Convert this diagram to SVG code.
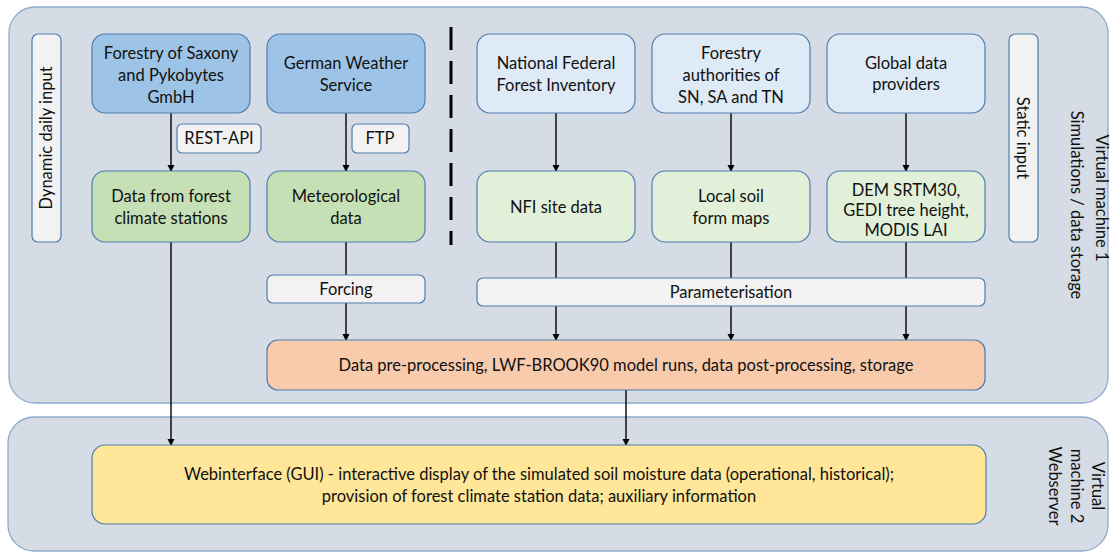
<svg xmlns="http://www.w3.org/2000/svg" width="1110" height="552" viewBox="0 0 1110 552">
<defs>
<marker id="ah" markerWidth="8" markerHeight="8" refX="6" refY="3.5" orient="auto" markerUnits="userSpaceOnUse">
<path d="M0,0 L7,3.5 L0,7 z" fill="#000"/>
</marker>
<style>
text{font-family:Lato,"Liberation Sans",sans-serif;font-size:16.5px;fill:#111;text-anchor:middle}
.vm{fill:#d6dce5;stroke:#8eaacb;stroke-width:1.3}
.b{stroke:#4f7cae;stroke-width:1.2}
.dark{fill:#9dc3e6}
.light{fill:#deebf7}
.gd{fill:#c5e0b4}
.gl{fill:#e2f0d9}
.lab{fill:#f2f2f2}
.proc{fill:#f8cbad}
.web{fill:#ffe699}
.c{stroke:#000;stroke-width:1.4;fill:none;marker-end:url(#ah)}
</style>
</defs>
<rect width="1110" height="552" fill="#fff"/>
<g id="vm1">
<rect class="vm" x="9" y="7" width="1099" height="396" rx="26"/>
<text transform="translate(1096,198) rotate(90)">Virtual machine 1</text>
<text transform="translate(1071,205) rotate(90)">Simulations / data storage</text>
</g>
<g id="vm2">
<rect class="vm" x="8" y="417" width="1100" height="134" rx="26"/>
<text transform="translate(1092,486) rotate(90)">Virtual</text>
<text transform="translate(1071,486) rotate(90)">machine 2</text>
<text transform="translate(1049,486) rotate(90)">Webserver</text>
</g>
<g id="dynamic-label">
<rect class="b lab" x="32" y="34" width="29" height="208" rx="6"/>
<text transform="translate(52,138) rotate(-90)">Dynamic daily input</text>
</g>
<g id="static-label">
<rect class="b lab" x="1009" y="34" width="29" height="208" rx="6"/>
<text transform="translate(1017,138) rotate(90)">Static input</text>
</g>
<line id="divider" x1="451" y1="27" x2="451" y2="245" stroke="#000" stroke-width="3" stroke-dasharray="23 11"/>
<g id="connectors">
<line class="c" x1="171" y1="113" x2="171" y2="171"/>
<line class="c" x1="346" y1="113" x2="346" y2="171"/>
<line class="c" x1="556" y1="113" x2="556" y2="171"/>
<line class="c" x1="731" y1="113" x2="731" y2="171"/>
<line class="c" x1="906" y1="113" x2="906" y2="171"/>
<line x1="346" y1="242" x2="346" y2="275" stroke="#000" stroke-width="1.4"/>
<line x1="556" y1="242" x2="556" y2="278" stroke="#000" stroke-width="1.4"/>
<line x1="731" y1="242" x2="731" y2="278" stroke="#000" stroke-width="1.4"/>
<line x1="906" y1="242" x2="906" y2="278" stroke="#000" stroke-width="1.4"/>
<line class="c" x1="346" y1="303" x2="346" y2="340"/>
<line class="c" x1="556" y1="306" x2="556" y2="340"/>
<line class="c" x1="731" y1="306" x2="731" y2="340"/>
<line class="c" x1="906" y1="306" x2="906" y2="340"/>
<line class="c" x1="171" y1="242" x2="171" y2="445"/>
<line class="c" x1="626" y1="390" x2="626" y2="445"/>
</g>
<g id="rest-api">
<rect class="b lab" x="177" y="124" width="84" height="29" rx="5"/>
<text x="219" y="144">REST-API</text>
</g>
<g id="ftp">
<rect class="b lab" x="352" y="124" width="57" height="29" rx="5"/>
<text x="380" y="144">FTP</text>
</g>
<g id="forestry-saxony">
<rect class="b dark" x="92" y="34" width="158" height="79" rx="13"/>
<text x="171" y="59">Forestry of Saxony</text>
<text x="171" y="81">and Pykobytes</text>
<text x="171" y="103">GmbH</text>
</g>
<g id="dwd">
<rect class="b dark" x="267" y="34" width="158" height="79" rx="13"/>
<text x="346" y="69">German Weather</text>
<text x="346" y="91">Service</text>
</g>
<g id="nfi">
<rect class="b light" x="477" y="34" width="158" height="79" rx="13"/>
<text x="556" y="69">National Federal</text>
<text x="556" y="91">Forest Inventory</text>
</g>
<g id="forestry-authorities">
<rect class="b light" x="652" y="34" width="158" height="79" rx="13"/>
<text x="731" y="59">Forestry</text>
<text x="731" y="81">authorities of</text>
<text x="731" y="103">SN, SA and TN</text>
</g>
<g id="global-data">
<rect class="b light" x="827" y="34" width="158" height="79" rx="13"/>
<text x="906" y="69">Global data</text>
<text x="906" y="90">providers</text>
</g>
<g id="station-data">
<rect class="b gd" x="92" y="171" width="158" height="71" rx="13"/>
<text x="171" y="202">Data from forest</text>
<text x="171" y="224">climate stations</text>
</g>
<g id="met-data">
<rect class="b gd" x="267" y="171" width="158" height="71" rx="13"/>
<text x="346" y="202">Meteorological</text>
<text x="346" y="224">data</text>
</g>
<g id="nfi-site">
<rect class="b gl" x="477" y="171" width="158" height="71" rx="13"/>
<text x="556" y="213">NFI site data</text>
</g>
<g id="soil-maps">
<rect class="b gl" x="652" y="171" width="158" height="71" rx="13"/>
<text x="731" y="202">Local soil</text>
<text x="731" y="224">form maps</text>
</g>
<g id="dem">
<rect class="b gl" x="827" y="171" width="158" height="71" rx="13"/>
<text x="906" y="196">DEM SRTM30,</text>
<text x="906" y="216">GEDI tree height,</text>
<text x="906" y="236">MODIS LAI</text>
</g>
<g id="forcing">
<rect class="b lab" x="267" y="275" width="158" height="28" rx="6"/>
<text x="346" y="295">Forcing</text>
</g>
<g id="parameterisation">
<rect class="b lab" x="477" y="278" width="508" height="28" rx="6"/>
<text x="731" y="298">Parameterisation</text>
</g>
<g id="processing">
<rect class="b proc" x="267" y="340" width="718" height="50" rx="11"/>
<text x="626" y="371">Data pre-processing, LWF-BROOK90 model runs, data post-processing, storage</text>
</g>
<g id="webinterface">
<rect class="b web" x="92" y="445" width="894" height="79" rx="13"/>
<text x="539" y="480">Webinterface (GUI) - interactive display of the simulated soil moisture data (operational, historical);</text>
<text x="539" y="502">provision of forest climate station data; auxiliary information</text>
</g>
</svg>
